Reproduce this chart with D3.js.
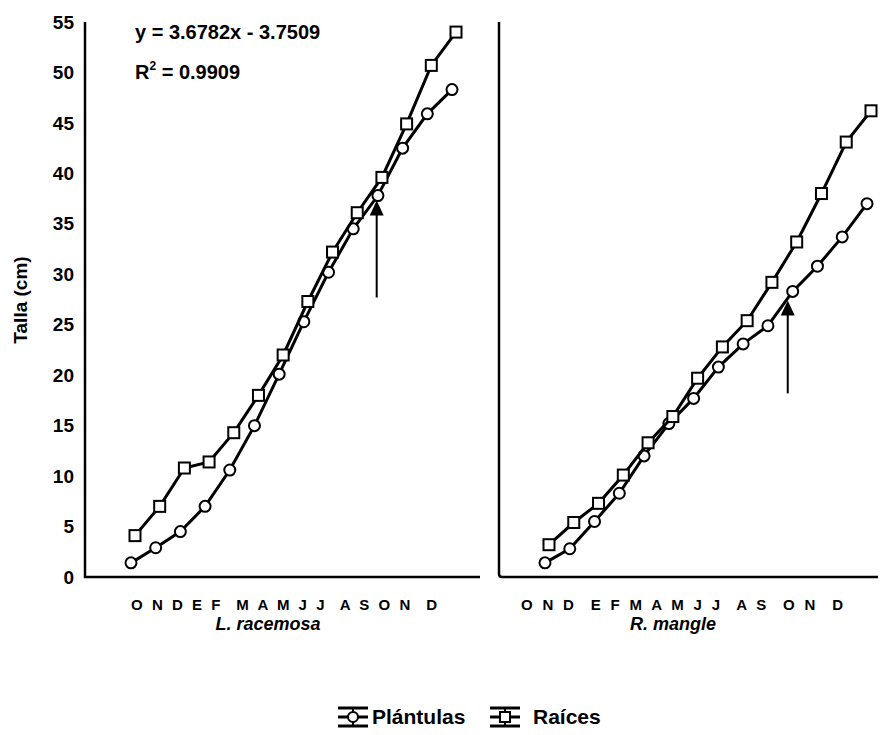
<!DOCTYPE html>
<html>
<head>
    <meta charset="utf-8">
    <title>Talla plantulas y raices</title>
    <script src="https://d3js.org/d3.v7.min.js"></script>
    <style>
        body { margin: 0; background: #fff; }
        text { font-family: "Liberation Sans", Arial, sans-serif; font-weight: bold; fill: #000; }
    </style>
</head>
<body>
    <script>
        // values (cm), one per month
        const idx = d3.range(14);
        const racemosaPlantulas = [1.4, 2.9, 4.5, 7.0, 10.6, 15.0, 20.1, 25.3, 30.2, 34.5, 37.8, 42.5, 45.9, 48.3];
        const racemosaRaices = [4.1, 7.0, 10.8, 11.4, 14.3, 18.0, 22.0, 27.3, 32.2, 36.1, 39.6, 44.9, 50.7, 54.0];
        const mangleplantulas = [1.4, 2.8, 5.5, 8.3, 12.0, 15.2, 17.7, 20.8, 23.1, 24.9, 28.3, 30.8, 33.7, 37.0];
        const mangleRaices = [3.2, 5.4, 7.3, 10.1, 13.3, 15.9, 19.7, 22.8, 25.4, 29.2, 33.2, 38.0, 43.1, 46.2];

        const yTicks = [0, 5, 10, 15, 20, 25, 30, 35, 40, 45, 50, 55];
        const monthsLeft = ["O N D E F", "M A M J J", "A S O N", "D"];
        const monthsRight = ["O N D", "E F M A M J J", "A S", "O N", "D"];
        const species = ["L. racemosa", "R. mangle"];
        const legendNames = ["Plántulas", "Raíces"];
        // arrows: [index, from, to]
        const arrowLeft = [9.95, 27.7, 37.3];
        const arrowRight = [9.8, 18.2, 27.4];

        const width = 882;
        const height = 735;

        const svg = d3.select("body").append("svg")
            .attr("width", width)
            .attr("height", height);

        const yScale = d3.scaleLinear().domain([0, 55]).range([577, 22]);
        const xLeft = d3.scaleLinear().domain([0, 13]).range([131, 452]);
        const xRight = d3.scaleLinear().domain([0, 13]).range([545, 867]);

        //y axis labels, no ticks
        const yAxis = d3.axisLeft(yScale).tickValues(yTicks).tickSize(0).tickPadding(11);
        const yg = svg.append("g").attr("transform", "translate(85,0)").call(yAxis);
        yg.select(".domain").remove();
        yg.selectAll("text").style("font-size", "19px").style("font-family", "Liberation Sans, Arial").style("font-weight", "bold");

        // frames
        svg.append("path")
            .attr("d", "M85," + yScale(55) + "V" + yScale(0) + "H480")
            .attr("fill", "none").attr("stroke", "#000").attr("stroke-width", 2.5);
        svg.append("path")
            .attr("d", "M499," + yScale(55) + "V" + (yScale(0) - 3) + "Q499," + yScale(0) + " 502," + yScale(0) + "H878")
            .attr("fill", "none").attr("stroke", "#000").attr("stroke-width", 2.5);

        svg.append("text")
            .attr("transform", "translate(27,300) rotate(-90)")
            .attr("text-anchor", "middle")
            .style("font-size", "19px")
            .text("Talla (cm)");

        // equation
        svg.append("text").attr("x", 135).attr("y", 39).style("font-size", "20px")
            .text("y = 3.6782x - 3.7509");
        const r2 = svg.append("text").attr("x", 135).attr("y", 79).style("font-size", "20px");
        r2.append("tspan").text("R");
        r2.append("tspan").attr("dy", -9).style("font-size", "12px").text("2");
        r2.append("tspan").attr("dy", 9).text(" = 0.9909");

        const line = (xs, dx) => d3.line().x((d, i) => xs(idx[i]) + dx).y(d => yScale(d));

        function series(xs, values, shape, dx) {
            svg.append("path").datum(values)
                .attr("fill", "none").attr("stroke", "#000").attr("stroke-width", 3)
                .attr("d", line(xs, dx));
            const g = svg.append("g");
            if (shape === "circle") {
                g.selectAll("circle").data(values).enter().append("circle")
                    .attr("cx", (d, i) => xs(idx[i]) + dx).attr("cy", d => yScale(d))
                    .attr("r", 5.5).attr("fill", "#fff").attr("stroke", "#000").attr("stroke-width", 2);
            } else {
                g.selectAll("rect").data(values).enter().append("rect")
                    .attr("x", (d, i) => xs(idx[i]) + dx - 5.5).attr("y", d => yScale(d) - 5.5)
                    .attr("width", 11).attr("height", 11)
                    .attr("fill", "#fff").attr("stroke", "#000").attr("stroke-width", 2);
            }
        }

        series(xLeft, racemosaPlantulas, "circle", 0);
        series(xLeft, racemosaRaices, "square", 4);
        series(xRight, mangleplantulas, "circle", 0);
        series(xRight, mangleRaices, "square", 4);

        // arrows
        function arrow(xs, a) {
            const x = xs(a[0]);
            svg.append("line").attr("x1", x).attr("x2", x)
                .attr("y1", yScale(a[1])).attr("y2", yScale(a[2]) + 12)
                .attr("stroke", "#000").attr("stroke-width", 2);
            svg.append("path")
                .attr("d", "M" + x + "," + yScale(a[2]) + "L" + (x - 7) + "," + (yScale(a[2]) + 15) + "L" + (x + 7) + "," + (yScale(a[2]) + 15) + "Z")
                .attr("fill", "#000");
        }
        arrow(xLeft, arrowLeft);
        arrow(xRight, arrowRight);

        // month labels
        svg.append("text").attr("x", 131).attr("y", 610)
            .attr("xml:space", "preserve")
            .attr("textLength", 306).attr("lengthAdjust", "spacing")
            .style("font-size", "15px")
            .text(monthsLeft.join("  "));
        svg.append("text").attr("x", 521).attr("y", 610)
            .attr("xml:space", "preserve")
            .attr("textLength", 322).attr("lengthAdjust", "spacing")
            .style("font-size", "15px")
            .text(monthsRight.join("  "));

        svg.selectAll(".sp").data(species).enter().append("text")
            .attr("x", (d, i) => i === 0 ? 268 : 673).attr("y", 630)
            .attr("text-anchor", "middle")
            .style("font-size", "18px").style("font-style", "italic")
            .text(d => d);

        // legend
        const legX = [338, 490];
        const lg = svg.selectAll(".leg").data(legendNames).enter().append("g")
            .attr("transform", (d, i) => "translate(" + legX[i] + ",0)");
        lg.append("line").attr("x1", 0).attr("x2", 30).attr("y1", 708).attr("y2", 708).attr("stroke", "#000").attr("stroke-width", 3);
        lg.append("line").attr("x1", 0).attr("x2", 30).attr("y1", 726).attr("y2", 726).attr("stroke", "#000").attr("stroke-width", 3);
        lg.append("line").attr("x1", 15).attr("x2", 15).attr("y1", 708).attr("y2", 726).attr("stroke", "#000").attr("stroke-width", 2);
        lg.append("line").attr("x1", 0).attr("x2", 30).attr("y1", 717).attr("y2", 717).attr("stroke", "#000").attr("stroke-width", 3);
        lg.filter((d, i) => i === 0).append("circle").attr("cx", 15).attr("cy", 717).attr("r", 5)
            .attr("fill", "#fff").attr("stroke", "#000").attr("stroke-width", 2);
        lg.filter((d, i) => i === 1).append("rect").attr("x", 10).attr("y", 712).attr("width", 10).attr("height", 10)
            .attr("fill", "#fff").attr("stroke", "#000").attr("stroke-width", 2);
        lg.append("text").attr("x", (d, i) => i === 0 ? 34 : 43).attr("y", 724).style("font-size", "21px").text(d => d);
    </script>
</body>
</html>
